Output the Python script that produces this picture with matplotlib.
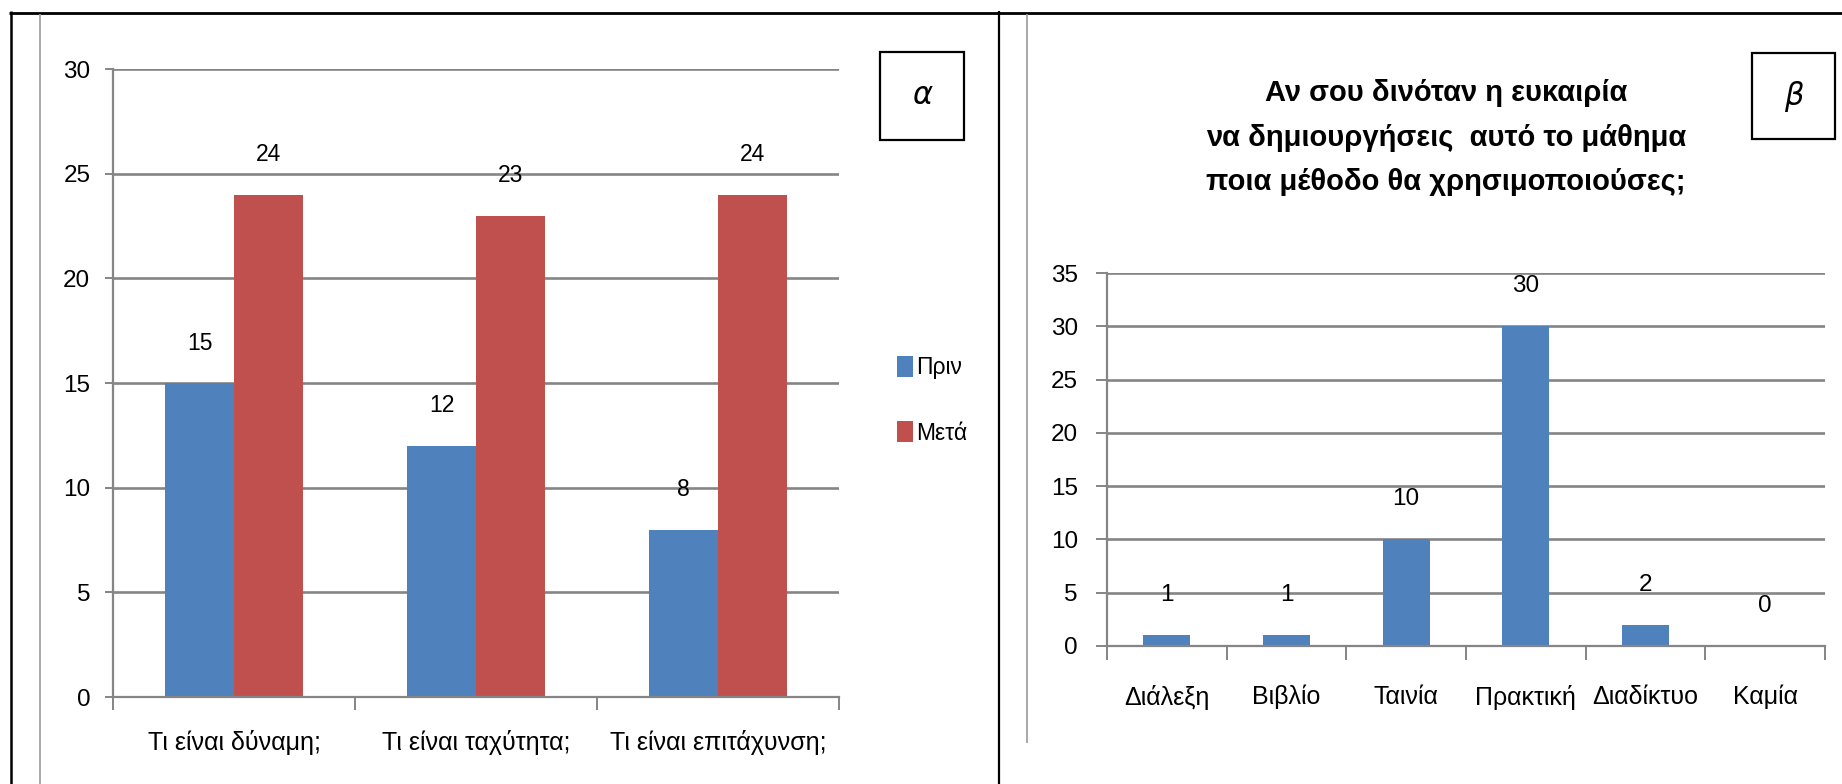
import matplotlib
matplotlib.use("Agg")
import matplotlib.pyplot as plt
from matplotlib import font_manager
from matplotlib.lines import Line2D
from matplotlib.patches import Rectangle

# ---------------- data ----------------
questions = ["Τι είναι δύναμη;", "Τι είναι ταχύτητα;", "Τι είναι επιτάχυνση;"]
before_vals = [15, 12, 8]
after_vals = [24, 23, 24]
series_names = ["Πριν", "Μετά"]
left_yticks = [0, 5, 10, 15, 20, 25, 30]

methods = ["Διάλεξη", "Βιβλίο", "Ταινία", "Πρακτική", "Διαδίκτυο", "Καμία"]
method_vals = [1, 1, 10, 30, 2, 0]
right_yticks = [0, 5, 10, 15, 20, 25, 30, 35]
right_title = "Αν σου δινόταν η ευκαιρία\nνα δημιουργήσεις  αυτό το μάθημα\nποια μέθοδο θα χρησιμοποιούσες;"
panel_labels = ["α", "β"]

# ---------------- style ----------------
names = {f.name for f in font_manager.fontManager.ttflist}
base = "Liberation Sans Narrow" if "Liberation Sans Narrow" in names else "Liberation Sans"
plt.rcParams["font.family"] = [base, "DejaVu Sans"]

BLUE = "#4F81BD"
RED = "#C0504D"
GRID = "#858585"
W, H = 1842, 784
DPI = 100

fig = plt.figure(figsize=(W / DPI, H / DPI), dpi=DPI)
fig.patch.set_facecolor("white")


def fx(x):
    return x / W


def fy(y):
    return 1 - y / H


def axes_px(x0, y0, x1, y1):
    return fig.add_axes([fx(x0), fy(y1), fx(x1) - fx(x0), fy(y0) - fy(y1)])


def style_axes(ax, ytick_len, ytick_pad):
    for s in ["top", "right"]:
        ax.spines[s].set_visible(False)
    for s in ["left", "bottom"]:
        ax.spines[s].set_color(GRID)
        ax.spines[s].set_linewidth(1.6)
    ax.yaxis.grid(True, color=GRID, linewidth=1.9)
    ax.set_axisbelow(True)
    ax.tick_params(axis="y", length=ytick_len, width=1.4, color=GRID, pad=ytick_pad,
                   labelsize=17.5)
    ax.tick_params(axis="x", which="major", length=0, labelsize=18)
    ax.tick_params(axis="x", which="minor", length=9, width=1.4, color=GRID)


# ---------------- left chart ----------------
axL = axes_px(113, 69, 839, 697)
xL = list(range(len(questions)))
bw = 0.285
bars_b = axL.bar([x - bw / 2 for x in xL], before_vals, width=bw, color=BLUE, label=series_names[0])
bars_a = axL.bar([x + bw / 2 for x in xL], after_vals, width=bw, color=RED, label=series_names[1])
axL.set_xlim(-0.5, len(questions) - 0.5)
axL.set_ylim(0, 30)
axL.set_yticks(left_yticks)
axL.set_xticks(xL)
axL.set_xticklabels(questions)
axL.set_xticks([x - 0.5 for x in range(len(questions) + 1)], minor=True)
style_axes(axL, 5.8, 10.5)
axL.tick_params(axis="x", which="major", pad=24)
for bars, vals in [(bars_b, before_vals), (bars_a, after_vals)]:
    for b, v in zip(bars, vals):
        axL.annotate(str(v), (b.get_x() + b.get_width() / 2, v), xytext=(0, 40),
                     textcoords="offset pixels", ha="center", va="center", fontsize=16.5)

leg = axL.legend(handles=[bars_b, bars_a], loc="upper left",
                 bbox_to_anchor=(fx(897), fy(356)), bbox_transform=fig.transFigure,
                 frameon=False, fontsize=16.5, handlelength=0.68, handleheight=1.0,
                 handletextpad=0.15, labelspacing=1.85, borderpad=0, borderaxespad=0)

# ---------------- right chart ----------------
axR = axes_px(1107, 273, 1825, 646)
xR = list(range(len(methods)))
bars_m = axR.bar(xR, method_vals, width=0.39, color=BLUE)
axR.set_xlim(-0.5, len(methods) - 0.5)
axR.set_ylim(0, 35)
axR.set_yticks(right_yticks)
axR.set_xticks(xR)
axR.set_xticklabels(methods)
axR.set_xticks([x - 0.5 for x in range(len(methods) + 1)], minor=True)
style_axes(axR, 8, 13)
axR.tick_params(axis="x", which="major", pad=28)
axR.tick_params(axis="x", which="minor", length=10)
for b, v in zip(bars_m, method_vals):
    axR.annotate(str(v), (b.get_x() + b.get_width() / 2, v), xytext=(0, 40),
                 textcoords="offset pixels", ha="center", va="center", fontsize=17.5)

fig.text(fx(1446), fy(137.5), right_title, ha="center", va="center", fontsize=21,
         fontweight="bold", linespacing=1.75)

# ---------------- frame & panel labels ----------------
def hline(y, x0, x1, color, lw):
    fig.add_artist(Line2D([fx(x0), fx(x1)], [fy(y), fy(y)], color=color, lw=lw,
                          transform=fig.transFigure, solid_capstyle="butt"))


def vline(x, y0, y1, color, lw):
    fig.add_artist(Line2D([fx(x), fx(x)], [fy(y0), fy(y1)], color=color, lw=lw,
                          transform=fig.transFigure, solid_capstyle="butt"))


hline(12.5, 9, W, "black", 2.0)
vline(10.5, 11, H, "black", 1.8)
vline(999, 11, H, "black", 1.6)
vline(40, 14, H, "#9a9a9a", 1.2)
vline(1026.5, 14, 743, "#9a9a9a", 1.2)

for (x0, y0, x1, y1), lab in zip([(880, 52, 964, 140), (1752, 53, 1835, 139)], panel_labels):
    fig.add_artist(Rectangle((fx(x0), fy(y1)), fx(x1) - fx(x0), fy(y0) - fy(y1),
                             transform=fig.transFigure, facecolor="white",
                             edgecolor="black", lw=1.6))
    fig.text(fx((x0 + x1) / 2), fy((y0 + y1) / 2), lab, ha="center", va="center",
             fontsize=22, style="italic", family=["DejaVu Sans"])

fig.savefig("out.png", dpi=DPI, facecolor="white")
